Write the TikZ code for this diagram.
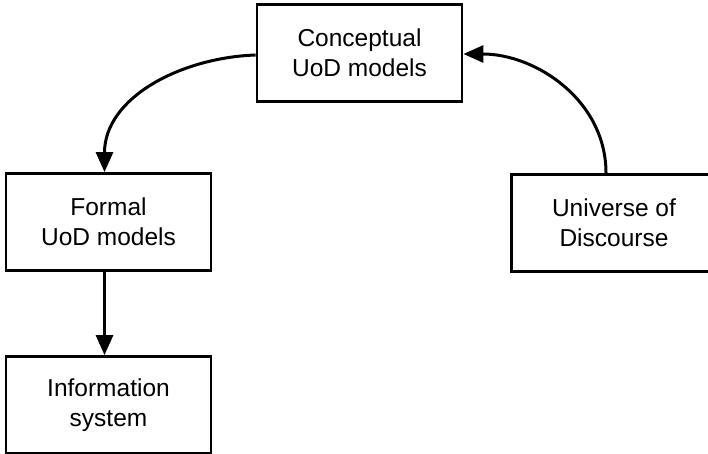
\documentclass[tikz,border=0pt]{standalone}
\usepackage{fontspec}
\setmainfont{Liberation Sans}
\usetikzlibrary{positioning,arrows.meta}

\begin{document}
\begin{tikzpicture}[
    x=1pt, y=-1pt,
    >={Triangle[length=20pt,width=17pt]},
    line width=3pt,
    every node/.style={font=\fontsize{24.5}{30}\selectfont, align=center},
    box/.style={draw, line width=2.8pt, minimum width=205pt, minimum height=97pt, inner sep=0pt}
]
\useasboundingbox (0,0) rectangle (708,454);

% ---------------- Boxes ----------------
\node[box] (cm) at (359.5,53) {Conceptual\\UoD models};
\node[box] (fm) at (108.5,222) {Formal\\UoD models};
\node[box] (uod) at (614,223) {Universe of\\Discourse};
\node[box] (is) at (108.5,405) {Information\\system};

% ---------------- Arrows ----------------
% Universe of Discourse
\draw[->] ([xshift=-8pt]uod.north) to[out=90,in=0] ([yshift=-1pt]cm.east);

% Conceptual models
\draw[->] ([yshift=-2pt]cm.west) to[out=182,in=90] ([xshift=-4pt]fm.north);

% Formal models
\draw[->] ([xshift=-4pt]fm.south) -- ([xshift=-4pt]is.north);

\end{tikzpicture}
\end{document}
